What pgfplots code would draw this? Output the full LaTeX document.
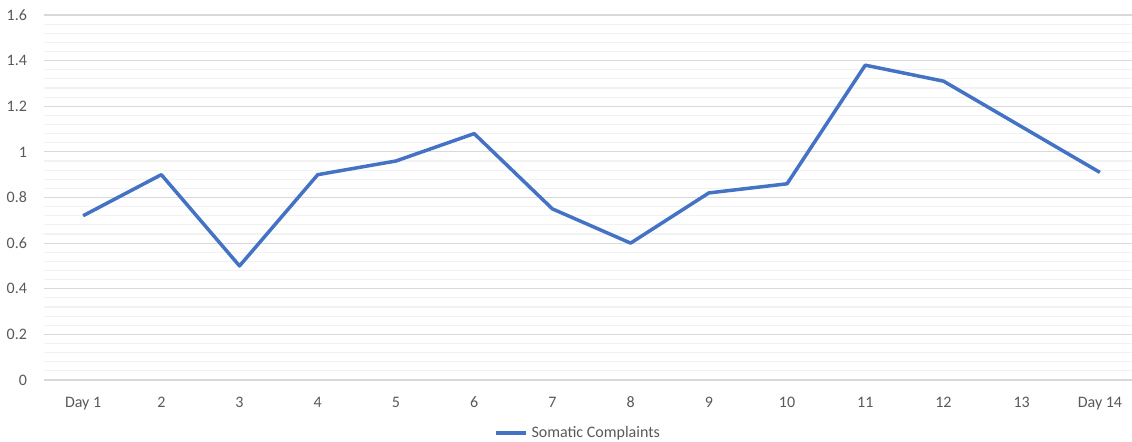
\documentclass[border=0pt]{standalone}
\usepackage{fontspec}
\setmainfont{Carlito}
\usepackage{pgfplots}
\pgfplotsset{compat=1.18}
\definecolor{seriesblue}{HTML}{4472C4}
\definecolor{majorgrid}{HTML}{D9D9D9}
\definecolor{minorgrid}{HTML}{F2F2F2}
\definecolor{labelgray}{HTML}{595959}
\begin{document}
\begin{tikzpicture}
\begin{axis}[
  name=ax,
  scale only axis,
  width=544pt, height=182.5pt,
  xmin=-0.5, xmax=13.41,
  ymin=0, ymax=1.6,
  xtick={0,...,13},
  xticklabels={Day 1,2,3,4,5,6,7,8,9,10,11,12,13,Day 14},
  ytick={0,0.2,...,1.6},
  minor y tick num=4,
  ymajorgrids, yminorgrids,
  major grid style={draw=majorgrid, line width=0.6pt},
  minor grid style={draw=minorgrid, line width=0.6pt},
  axis line style={draw=none},
  major tick length=0pt, minor tick length=0pt,
  tick style={draw=none},
  font=\fontsize{8}{10}\selectfont,
  tick label style={text=labelgray, font=\fontsize{8}{10}\selectfont},
  yticklabel style={xshift=-5pt},
  xticklabel style={yshift=-5pt},
  /pgf/number format/assume math mode=true,
  /pgf/number format/fixed,
  legend style={at={(0.4917,0)}, anchor=center, yshift=-26.5pt,
    draw=none, fill=none, font=\fontsize{8}{10}\selectfont, text=labelgray,
    inner sep=0pt},
  legend cell align=left,
  legend image code/.code={\draw[#1, line width=1.75pt] (0pt,0pt) -- (15pt,0pt);},
]
\addplot[seriesblue, line width=1.75pt, line join=round] coordinates {
  (0,0.72) (1,0.90) (2,0.50) (3,0.90) (4,0.96) (5,1.08) (6,0.75)
  (7,0.60) (8,0.82) (9,0.86) (10,1.38) (11,1.31) (12,1.11) (13,0.91)
};
\addlegendentry{Somatic Complaints}
\end{axis}
\pgfresetboundingbox
\path[use as bounding box] (ax.south west) ++(-22pt,-31pt) rectangle ++(566pt,221pt);
\end{tikzpicture}
\end{document}
